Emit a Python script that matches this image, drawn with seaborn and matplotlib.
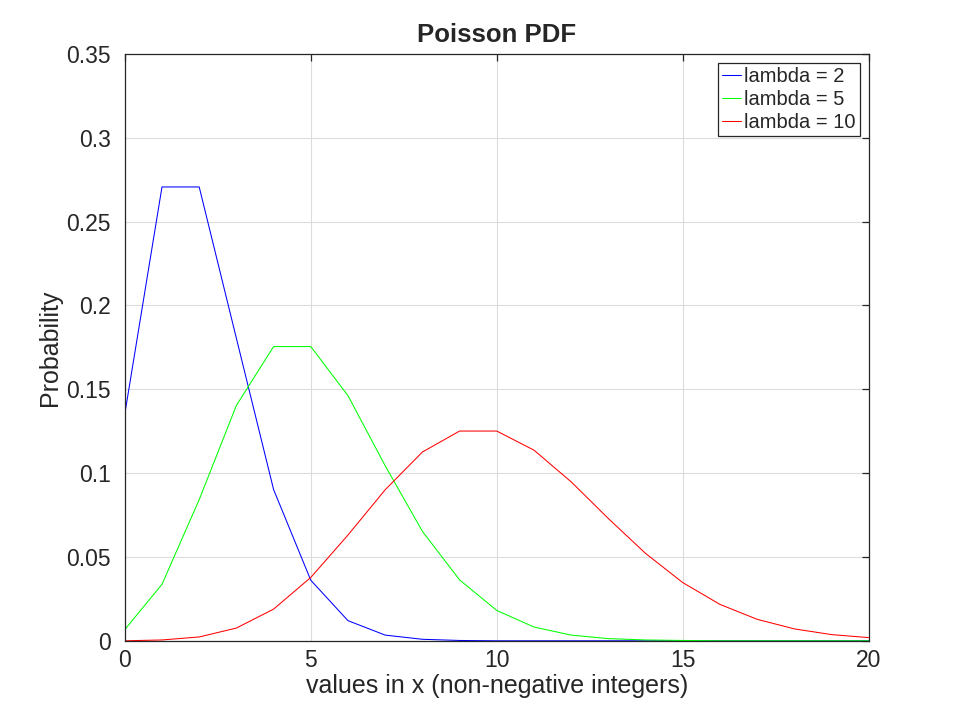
import numpy as np
import pandas as pd
import matplotlib
matplotlib.use("Agg")
import matplotlib.pyplot as plt
import seaborn as sns

# values, x = 0..20
x_vals = list(range(21))
p_lam2 = [0.1353, 0.2707, 0.2707, 0.1804, 0.0902, 0.0361, 0.0120, 0.0034, 0.0009, 0.0002,
          0.0000, 0.0000, 0.0000, 0.0000, 0.0000, 0.0000, 0.0000, 0.0000, 0.0000, 0.0000, 0.0000]
p_lam5 = [0.0067, 0.0337, 0.0842, 0.1404, 0.1755, 0.1755, 0.1462, 0.1044, 0.0653, 0.0363,
          0.0181, 0.0082, 0.0034, 0.0013, 0.0005, 0.0002, 0.0000, 0.0000, 0.0000, 0.0000, 0.0000]
p_lam10 = [0.0000, 0.0005, 0.0023, 0.0076, 0.0189, 0.0378, 0.0631, 0.0901, 0.1126, 0.1251,
           0.1251, 0.1137, 0.0948, 0.0729, 0.0521, 0.0347, 0.0217, 0.0128, 0.0071, 0.0037, 0.0019]

labels = ["lambda = 2", "lambda = 5", "lambda = 10"]
colors = ["#0000ff", "#00ff00", "#ff0000"]

df = pd.DataFrame({
    "x": x_vals * 3,
    "p": p_lam2 + p_lam5 + p_lam10,
    "series": [labels[0]] * 21 + [labels[1]] * 21 + [labels[2]] * 21,
})

sns.set_style("white")
plt.rcParams['font.family'] = ['Liberation Sans', 'DejaVu Sans']

fig = plt.figure(figsize=(9.6, 7.2), dpi=100)
ax = fig.add_axes([0.13, 0.11, 0.775, 0.815])

sns.lineplot(data=df, x="x", y="p", hue="series", palette=colors,
             hue_order=labels, linewidth=0.75, ax=ax)

ax.set_xlim(0, 20)
ax.set_ylim(0, 0.35)
ax.set_xticks([0, 5, 10, 15, 20])
ax.set_yticks([0, 0.05, 0.1, 0.15, 0.2, 0.25, 0.3, 0.35])
ax.set_yticklabels(["0", "0.05", "0.1", "0.15", "0.2", "0.25", "0.3", "0.35"])
ax.grid(True, color="#dcdcdc", linewidth=0.8)
ax.set_axisbelow(True)
for sp in ax.spines.values():
    sp.set_visible(True)
    sp.set_color("#262626")
    sp.set_linewidth(0.9)
ax.tick_params(direction="in", length=5, width=0.9, color="#262626",
               top=True, right=True, labelsize=16.5, labelcolor="#262626")
ax.tick_params(axis="y", pad=10)
ax.tick_params(axis="x", pad=6)

ax.set_xlabel("values in x (non-negative integers)", fontsize=18, color="#262626", labelpad=1)
ax.set_ylabel("Probability", fontsize=18, color="#262626", labelpad=3)
ax.set_title("Poisson PDF", fontsize=18.5, fontweight="bold", pad=9)

leg = ax.legend(loc="upper right", fontsize=14.5, frameon=True, fancybox=False,
                handlelength=0.95, handletextpad=0.15, borderpad=0.2, labelspacing=0.2,
                borderaxespad=0.45)
leg.get_frame().set_edgecolor("#262626")
leg.get_frame().set_linewidth(0.9)
leg.get_frame().set_alpha(1)

fig.savefig("out.png", dpi=100)
